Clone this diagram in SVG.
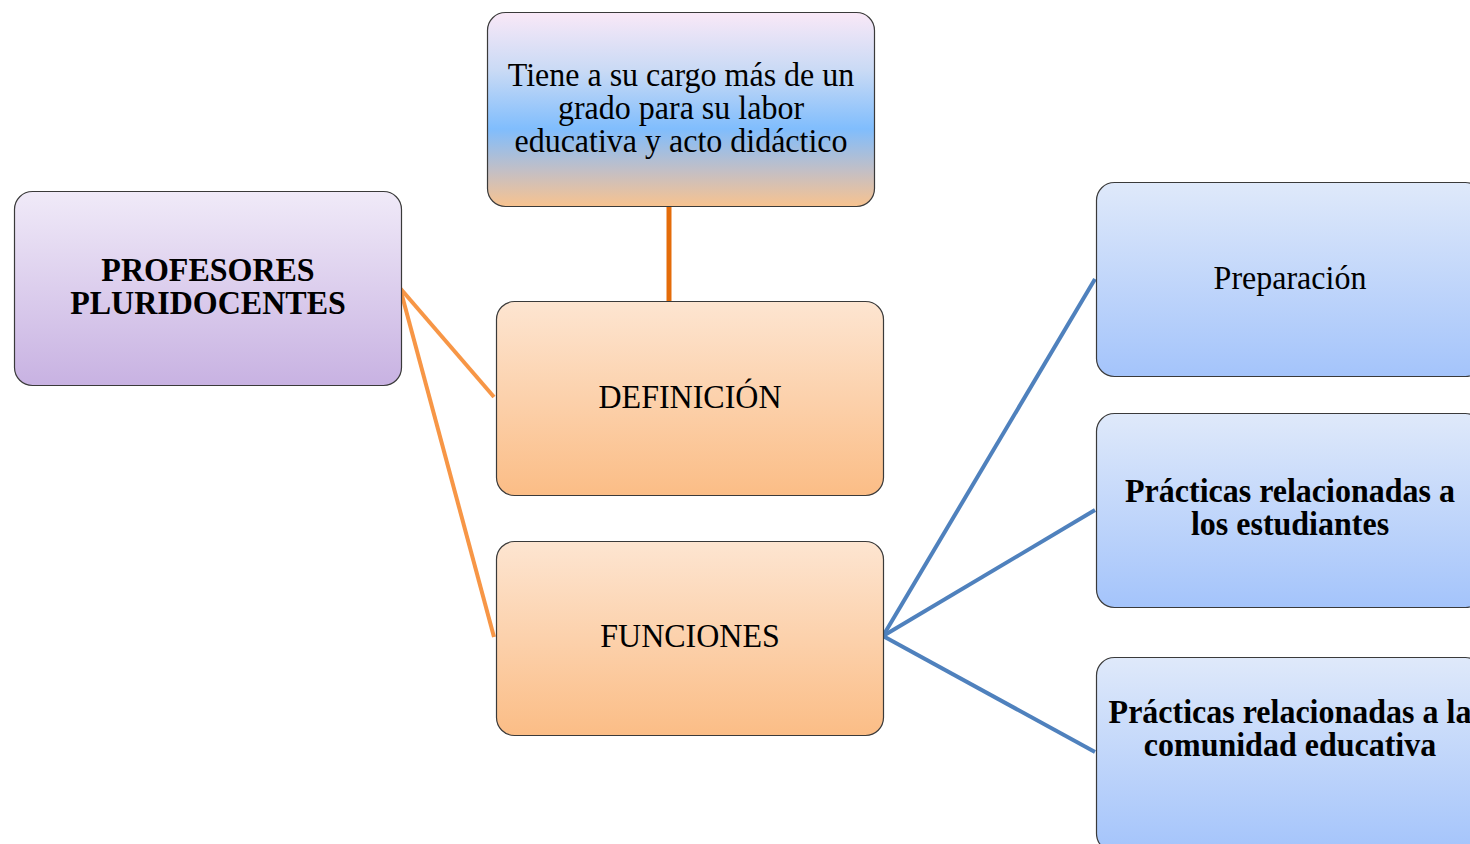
<svg xmlns="http://www.w3.org/2000/svg" width="1470" height="844" viewBox="0 0 1470 844">
<defs>
<linearGradient id="gTop" x1="0" y1="0" x2="0" y2="1">
<stop offset="0" stop-color="#f9e8f7"/>
<stop offset="0.3" stop-color="#c9daf5"/>
<stop offset="0.6" stop-color="#80bdfd"/>
<stop offset="0.82" stop-color="#c4bfc4"/>
<stop offset="1" stop-color="#f8c38f"/>
</linearGradient>
<linearGradient id="gPurple" x1="0" y1="0" x2="0" y2="1">
<stop offset="0" stop-color="#f0eaf8"/>
<stop offset="1" stop-color="#c8b2e2"/>
</linearGradient>
<linearGradient id="gOrange" x1="0" y1="0" x2="0" y2="1">
<stop offset="0" stop-color="#fde5d1"/>
<stop offset="1" stop-color="#fbbd86"/>
</linearGradient>
<linearGradient id="gBlue" x1="0" y1="0" x2="0" y2="1">
<stop offset="0" stop-color="#dfe9fa"/>
<stop offset="1" stop-color="#a4c4fb"/>
</linearGradient>
</defs>
<style>
.box{stroke:#3a3a3a;stroke-width:1.2}
.t{font-family:"Liberation Serif","Times New Roman",serif;font-size:32px;fill:#000;text-anchor:middle}
.b{font-weight:bold}
.o{stroke:#f79646;stroke-width:4;fill:none}
.od{stroke:#e46c0a;stroke-width:5;fill:none}
.bl{stroke:#4f81bd;stroke-width:4;fill:none}
</style>
<rect width="1470" height="844" fill="#fff"/>
<g id="connectors">
<line class="od" x1="669" y1="207" x2="669" y2="302"/>
<line class="o" x1="400" y1="288" x2="494" y2="397"/>
<line class="o" x1="400" y1="288" x2="494" y2="637"/>
<line class="bl" x1="883" y1="636" x2="1095" y2="279"/>
<line class="bl" x1="883" y1="636" x2="1095" y2="510"/>
<line class="bl" x1="883" y1="636" x2="1095" y2="752"/>
</g>
<g id="node-definicion-texto">
<rect class="box" x="487.5" y="12.5" width="387" height="194" rx="18" fill="url(#gTop)"/>
<text class="t" transform="translate(681 86) scale(1 1.08)">Tiene a su cargo más de un</text>
<text class="t" transform="translate(681 119) scale(1 1.08)">grado para su labor</text>
<text class="t" transform="translate(681 152) scale(1 1.08)">educativa y acto didáctico</text>
</g>
<g id="node-profesores">
<rect class="box" x="14.5" y="191.5" width="387" height="194" rx="18" fill="url(#gPurple)"/>
<text class="t b" transform="translate(208 281) scale(1 1.08)">PROFESORES</text>
<text class="t b" transform="translate(208 314) scale(1 1.08)">PLURIDOCENTES</text>
</g>
<g id="node-definicion">
<rect class="box" x="496.5" y="301.5" width="387" height="194" rx="18" fill="url(#gOrange)"/>
<text class="t" transform="translate(690 408) scale(1 1.08)">DEFINICIÓN</text>
</g>
<g id="node-funciones">
<rect class="box" x="496.5" y="541.5" width="387" height="194" rx="18" fill="url(#gOrange)"/>
<text class="t" transform="translate(690 647) scale(1 1.08)">FUNCIONES</text>
</g>
<g id="node-preparacion">
<rect class="box" x="1096.5" y="182.5" width="387" height="194" rx="18" fill="url(#gBlue)"/>
<text class="t" transform="translate(1290 289) scale(1 1.08)">Preparación</text>
</g>
<g id="node-estudiantes">
<rect class="box" x="1096.5" y="413.5" width="387" height="194" rx="18" fill="url(#gBlue)"/>
<text class="t b" transform="translate(1290 502) scale(1 1.08)">Prácticas relacionadas a</text>
<text class="t b" transform="translate(1290 535) scale(1 1.08)">los estudiantes</text>
</g>
<g id="node-comunidad">
<rect class="box" x="1096.5" y="657.5" width="387" height="194" rx="18" fill="url(#gBlue)"/>
<text class="t b" transform="translate(1290 723) scale(1 1.08)">Prácticas relacionadas a la</text>
<text class="t b" transform="translate(1290 756) scale(1 1.08)">comunidad educativa</text>
</g>
</svg>
